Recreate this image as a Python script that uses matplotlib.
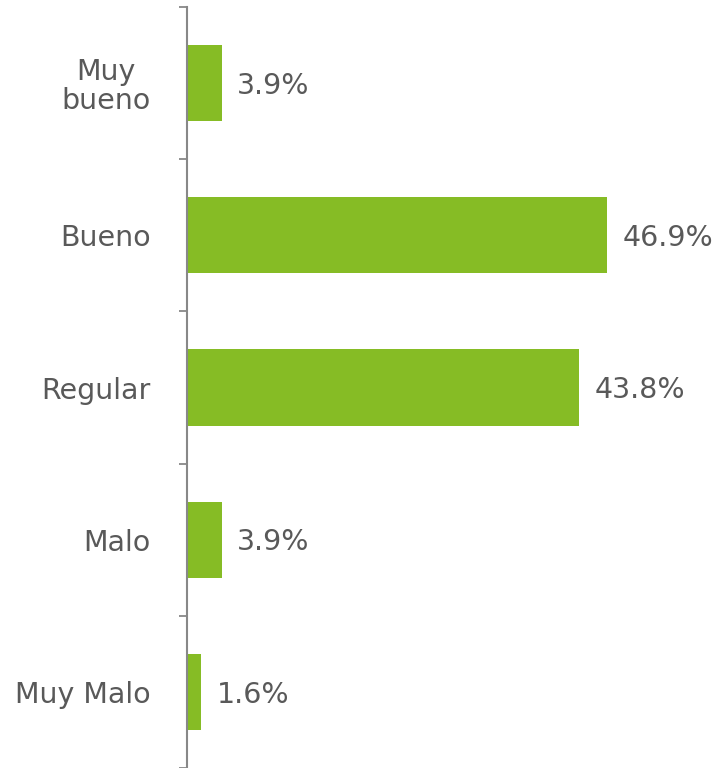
import matplotlib.pyplot as plt

categories = ["Muy\nbueno", "Bueno", "Regular", "Malo", "Muy Malo"]
values = [3.9, 46.9, 43.8, 3.9, 1.6]

GREEN = "#86BC25"
GRAY = "#595959"

fig = plt.figure(figsize=(7.26, 7.68), dpi=100)
ax = fig.add_axes([187 / 726, 0.0, 539 / 726, 761 / 768])

ypos = range(len(categories))
ax.barh(ypos, values, height=0.5, color=GREEN, zorder=2)
for y, v in zip(ypos, values):
    ax.annotate(f"{v:.1f}%", (v, y), textcoords="offset points", xytext=(11, -2),
                va="center", ha="left", fontsize=20.5, color=GRAY)

ax.set_xlim(0, 60.2)
ax.set_ylim(4.5, -0.5)
ax.set_yticks([i - 0.5 for i in range(6)])
ax.set_yticklabels([])
ax.set_yticks(list(ypos), minor=True)
ax.set_yticklabels(categories, minor=True, fontsize=20.5, color=GRAY,
                   linespacing=1.05, ha="right", multialignment="center")
ax.tick_params(axis="y", which="minor", length=0, pad=26)
ax.tick_params(axis="y", which="major", length=6, color="#888888", width=1.3)
ax.set_xticks([])
for s in ["top", "right", "bottom"]:
    ax.spines[s].set_visible(False)
ax.spines["left"].set_color("#888888")
ax.spines["left"].set_linewidth(1.5)

plt.savefig("out.png", dpi=100)
